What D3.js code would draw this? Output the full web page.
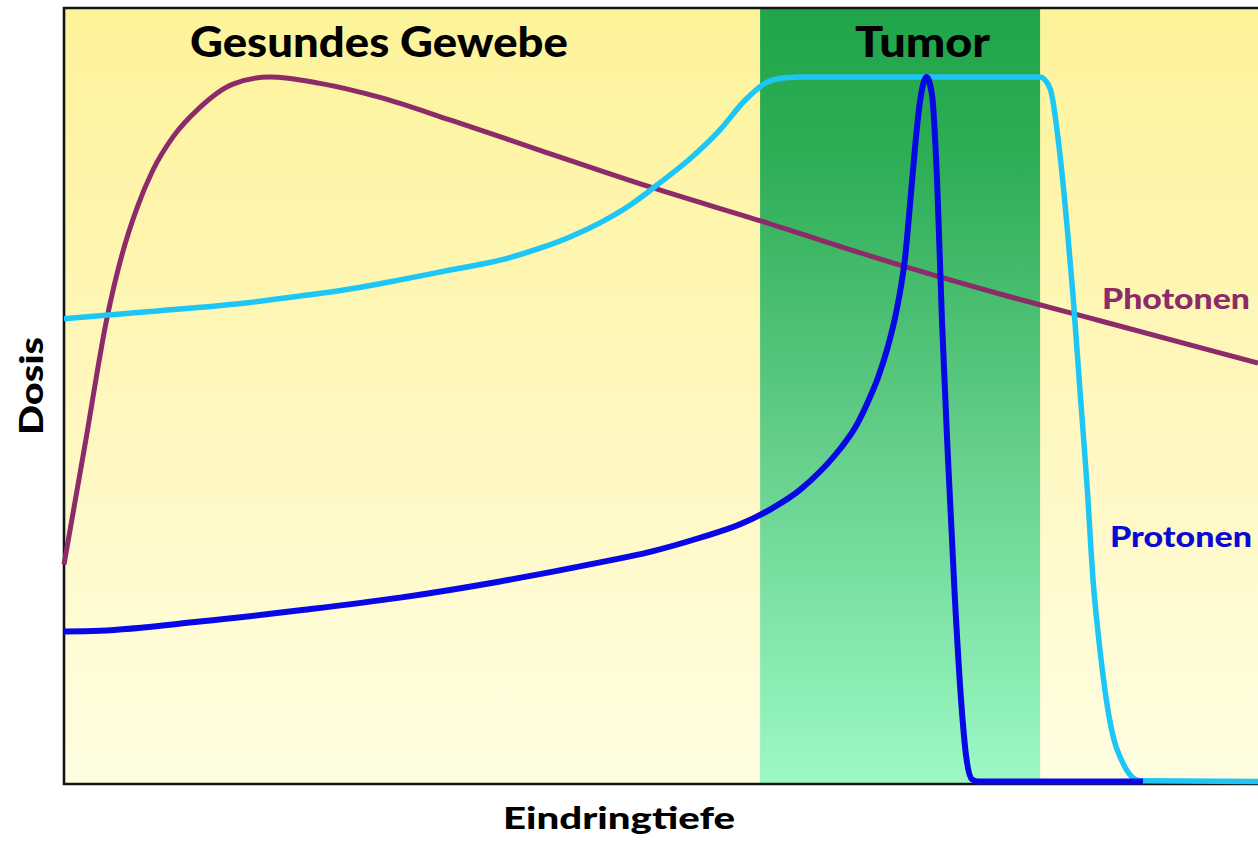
<!DOCTYPE html>
<html>
<head>
<meta charset="utf-8">
<script src="https://cdn.jsdelivr.net/npm/d3@7"></script>
<style>
  html, body { margin: 0; padding: 0; background: #ffffff; }
  svg { display: block; }
  text { font-family: Lato, "Open Sans", sans-serif; font-weight: 900; }
</style>
</head>
<body>
<script>
// ---- data (depth 0..100, relative dose 0..100) ----
const photonDepth = [0, 1.76, 3.60, 4.86, 6.11, 7.45, 9.13, 11.39, 14.15, 17.25, 21.44, 26.47, 32.33, 39.87, 49.08, 58.29, 70.02, 78.39, 86.77, 100];
const photonDose  = [30.8, 47.8, 65.8, 74.8, 81.4, 86.8, 91.5, 95.7, 99.0, 100, 99.1, 97.1, 93.9, 89.6, 84.4, 79.6, 73.3, 69.2, 65.4, 59.4];

const sobpDepth = [0, 7.20, 15.58, 19.77, 23.95, 28.14, 32.33, 36.52, 39.87, 42.38, 44.89, 47.40, 49.92, 52.43, 54.94, 57.04, 58.71, 60.39, 61.64, 81.74, 82.58, 83.42, 84.0, 84.51, 85.09, 85.68, 86.18, 86.77, 87.6, 88.69, 90.12, 100];
const sobpDose  = [65.7, 66.7, 68.0, 68.9, 69.9, 71.2, 72.6, 74.0, 75.7, 77.3, 79.3, 81.8, 85.0, 88.4, 92.5, 96.7, 99.1, 99.9, 100, 100, 98.4, 88.9, 79.0, 68.9, 55.5, 42.1, 28.7, 18.6, 8.5, 2.6, 0.1, 0];

const braggDepth = [0, 3.02, 11.39, 19.77, 28.14, 36.52, 44.89, 49.08, 53.27, 56.62, 59.13, 61.64, 63.32, 64.99, 66.25, 67.25, 68.17, 68.93, 69.60, 70.02, 70.44, 70.85, 71.27, 71.69, 72.24, 72.70, 73.12, 73.53, 74.04, 74.62, 75.13, 75.54, 76.05, 76.55, 90.37];
const braggDose  = [21.3, 21.4, 22.7, 24.3, 26.1, 28.4, 31.1, 32.6, 34.6, 36.5, 38.6, 41.4, 44.0, 47.2, 50.2, 53.6, 57.3, 61.3, 65.8, 69.5, 74.3, 81.8, 89.9, 96.5, 100, 97.4, 85.4, 65.5, 45.7, 25.8, 11.6, 3.8, 0.3, 0, 0];

const tumorRange = [58.3, 81.75];
const regionLabels = ["Gesundes Gewebe", "Tumor"];
const seriesLabels = ["Photonen", "Protonen"];
const axisLabels = { x: "Eindringtiefe", y: "Dosis" };

// ---- layout ----
const W = 1258, H = 841;
const plotL = 64, plotT = 8, plotB = 784, plotR = 1262;

const svg = d3.select("body").append("svg").attr("width", W).attr("height", H);
const defs = svg.append("defs");

const bgGrad = defs.append("linearGradient").attr("id", "bg").attr("x1", 0).attr("y1", 0).attr("x2", 0).attr("y2", 1);
bgGrad.append("stop").attr("offset", "0%").attr("stop-color", "#fdf39a");
bgGrad.append("stop").attr("offset", "50%").attr("stop-color", "#fff7bd");
bgGrad.append("stop").attr("offset", "100%").attr("stop-color", "#fffee2");

const tGrad = defs.append("linearGradient").attr("id", "tumor").attr("x1", 0).attr("y1", 0).attr("x2", 0).attr("y2", 1);
tGrad.append("stop").attr("offset", "0%").attr("stop-color", "#20a549");
tGrad.append("stop").attr("offset", "20%").attr("stop-color", "#2eae56");
tGrad.append("stop").attr("offset", "55%").attr("stop-color", "#62cd88");
tGrad.append("stop").attr("offset", "100%").attr("stop-color", "#9cf9c6");

const x = d3.scaleLinear().domain([0, 100]).range([64, 1258]);
const y = d3.scaleLinear().domain([0, 100]).range([781.5, 77]);

// background
svg.append("rect").attr("x", plotL).attr("y", plotT).attr("width", plotR - plotL).attr("height", plotB - plotT).attr("fill", "url(#bg)");

// tumor band
svg.append("rect")
  .attr("x", x(tumorRange[0])).attr("y", plotT)
  .attr("width", x(tumorRange[1]) - x(tumorRange[0]))
  .attr("height", plotB - plotT)
  .attr("fill", "url(#tumor)");

// frame (left, top, bottom)
svg.append("path")
  .attr("d", `M${plotR},${plotT} H${plotL} V${plotB} H${plotR}`)
  .attr("stroke", "#151515").attr("stroke-width", 2.6).attr("fill", "none");

// curves
const line = d3.line().curve(d3.curveMonotoneX).x(d => x(d[0])).y(d => y(d[1]));
const photon = d3.zip(photonDepth, photonDose);
const sobp = d3.zip(sobpDepth, sobpDose);
const bragg = d3.zip(braggDepth, braggDose);

svg.append("path").attr("d", line(photon)).attr("fill", "none").attr("stroke", "#8c2a6a").attr("stroke-width", 5);
svg.append("path").attr("d", line(sobp)).attr("fill", "none").attr("stroke", "#1ec6f6").attr("stroke-width", 5.5).attr("stroke-linejoin", "round");
svg.append("path").attr("d", line(bragg)).attr("fill", "none").attr("stroke", "#0808e6").attr("stroke-width", 6).attr("stroke-linejoin", "round");

// labels
function label(txt, xx, yy, size, len, color) {
  return svg.append("text").attr("x", xx).attr("y", yy)
    .attr("font-size", size).attr("fill", color)
    .attr("textLength", len).attr("lengthAdjust", "spacingAndGlyphs")
    .text(txt);
}
label(regionLabels[0], 190, 57, 42, 378, "#000");
label(regionLabels[1], 855, 57, 42, 135, "#000");
label(seriesLabels[0], 1102, 309, 28, 148, "#8c2a6a");
label(seriesLabels[1], 1110, 547, 28, 142, "#0a0ad2");
label(axisLabels.x, 503, 829, 30, 232, "#000");
svg.append("text")
  .attr("transform", "translate(43,435) rotate(-90)")
  .attr("font-size", 32).attr("fill", "#000")
  .attr("textLength", 98).attr("lengthAdjust", "spacingAndGlyphs")
  .text(axisLabels.y);
</script>
</body>
</html>
